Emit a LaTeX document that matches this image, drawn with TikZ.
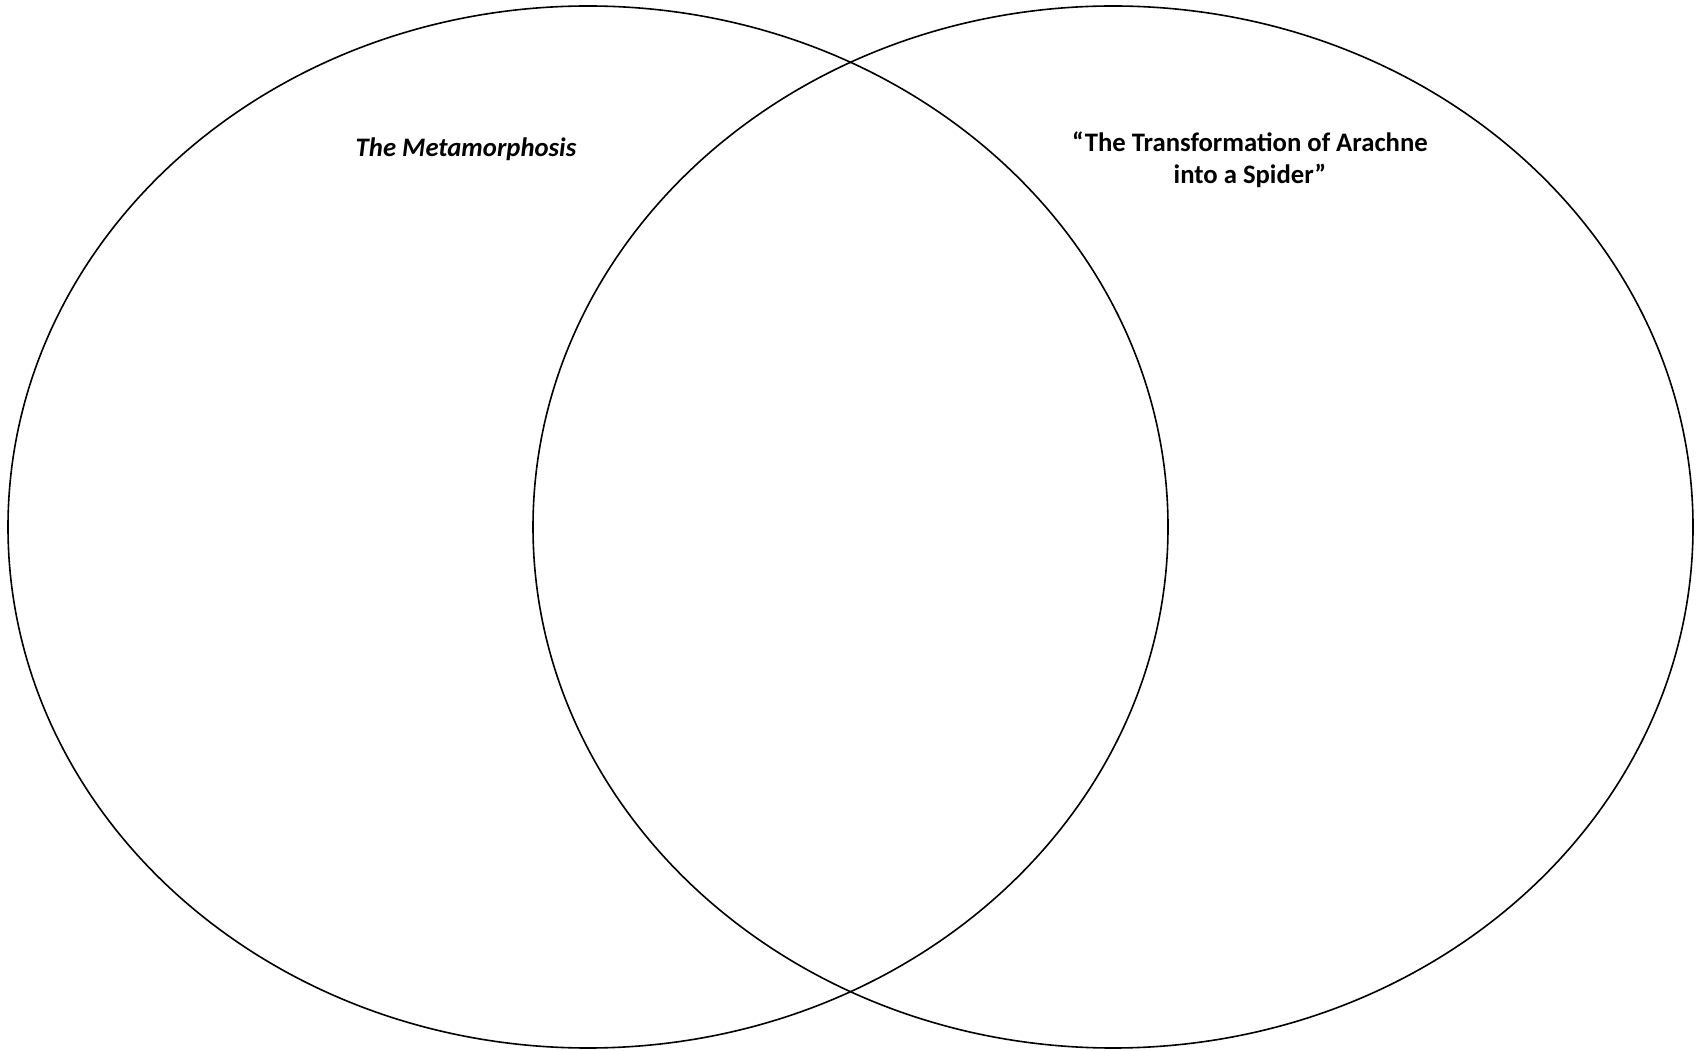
\documentclass[tikz,border=0pt]{standalone}
\usepackage{fontspec}
\setmainfont{Carlito}
\usetikzlibrary{positioning}

\begin{document}
\begin{tikzpicture}[x=1pt,y=1pt]
  \useasboundingbox (0,0) rectangle (1696,1050);
  \draw[line width=1.6pt] (588,523) ellipse[x radius=580,y radius=521];
  \draw[line width=1.6pt] (1113,523) ellipse[x radius=580,y radius=521];
  \node[font=\fontsize{26.7}{32}\selectfont\bfseries\itshape,anchor=base,inner sep=0pt] (story)
        at (466,893) {The Metamorphosis};
  \node[font=\fontsize{26.7}{32}\selectfont\bfseries,align=center,anchor=base,inner sep=0pt] (myth)
        at (1250,866) {``The Transformation of Arachne\\into a Spider''};
\end{tikzpicture}
\end{document}
